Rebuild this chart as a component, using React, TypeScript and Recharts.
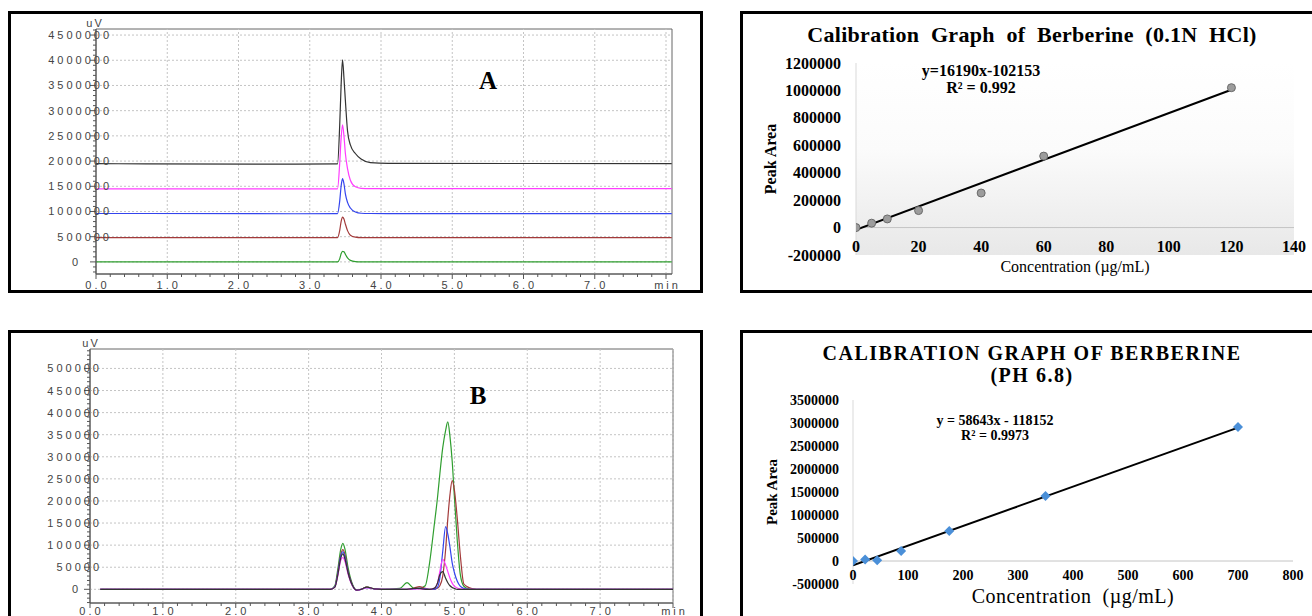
import {
  Line,
  LineChart,
  ReferenceArea,
  ReferenceLine,
  Scatter,
  ScatterChart,
  XAxis,
  YAxis,
} from 'recharts';

const SERIF = '"Liberation Serif", "Times New Roman", serif';
const SANS = '"Liberation Sans", Arial, sans-serif';

// chromatogram A: five overlaid standards, offset baselines
const timeA = [0, 0.7, 2.8, 3.39, 3.42, 3.44, 3.46, 3.48, 3.5, 3.53, 3.57, 3.64, 3.72, 3.85, 4.1, 8.08];
const blackA = [1950000, 1945000, 1940000, 1945000, 2700000, 3500000, 4010000, 3650000, 3200000, 2600000, 2320000, 2150000, 2040000, 1970000, 1955000, 1950000];
const magentaA = [1450000, 1450000, 1450000, 1450000, 1950000, 2450000, 2720000, 2500000, 2150000, 1850000, 1620000, 1490000, 1460000, 1455000, 1455000, 1455000];
const blueA = [960000, 960000, 955000, 958000, 1200000, 1500000, 1650000, 1550000, 1350000, 1180000, 1070000, 990000, 965000, 960000, 958000, 958000];
const brownA = [480000, 480000, 480000, 480000, 620000, 800000, 890000, 850000, 750000, 620000, 530000, 490000, 480000, 480000, 480000, 480000];
const greenA = [0, 0, 0, 0, 60000, 160000, 210000, 200000, 150000, 80000, 30000, 5000, 0, 0, 0, 0];
const yMajorA = [0, 500000, 1000000, 1500000, 2000000, 2500000, 3000000, 3500000, 4000000, 4500000];

// chromatogram B
const timeB = [0.14, 2.0, 3.3, 3.36, 3.4, 3.44, 3.47, 3.5, 3.54, 3.6, 3.66, 3.72, 3.8, 3.9, 4.0, 4.25, 4.35, 4.45, 4.52, 4.6, 4.66, 4.72, 4.77, 4.8, 4.84, 4.88, 4.91, 4.94, 4.97, 5.0, 5.04, 5.08, 5.13, 5.2, 5.3, 6.0, 8.0];
const greenB = [0, 0, 0, 8000, 45000, 90000, 104000, 90000, 50000, 12000, -2000, 0, 5000, 1000, 0, 2000, 15000, 2000, 2000, 8000, 60000, 140000, 210000, 260000, 320000, 360000, 379000, 345000, 290000, 210000, 110000, 35000, 7000, 1000, 0, 0, 0];
const brownB = [0, 0, 0, 6000, 38000, 78000, 90000, 78000, 42000, 10000, -2000, 0, 5000, 1000, 0, 0, 0, 3000, 6000, 2000, 0, 0, 3000, 8000, 30000, 90000, 160000, 215000, 246000, 225000, 160000, 80000, 12000, 4000, 0, 0, 0];
const blueB = [0, 0, 0, 6000, 35000, 75000, 85000, 72000, 40000, 9000, -2000, 0, 4000, 1000, 0, 0, 0, 1000, 2000, 1000, 0, 0, 5000, 25000, 85000, 142000, 125000, 95000, 60000, 38000, 18000, 7000, 2000, 0, 0, 0, 0];
const magentaB = [0, 0, 0, 5000, 30000, 65000, 72000, 62000, 35000, 8000, -2000, 0, 4000, 1000, 0, 0, 0, 1000, 1000, 0, 0, 2000, 15000, 40000, 68000, 55000, 40000, 25000, 14000, 7000, 3000, 1000, 0, 0, 0, 0, 0];
const blackB = [0, 0, 0, 5000, 32000, 70000, 80000, 68000, 38000, 9000, -2000, 0, 5000, 1000, 0, 0, 0, 2000, 2000, 0, 0, 2000, 15000, 33000, 40000, 25000, 15000, 8000, 4000, 2000, 0, 0, 0, 0, 0, 0, 0];
const yMajorB = [0, 50000, 100000, 150000, 200000, 250000, 300000, 350000, 400000, 450000, 500000];

const xMajorChrom = [0, 1, 2, 3, 4, 5, 6, 7, 8];
const xLabelsChrom = ['0.0', '1.0', '2.0', '3.0', '4.0', '5.0', '6.0', '7.0', 'min'];

// calibration 0.1N HCl
const concC = [0, 5, 10, 20, 40, 60, 120];
const areaC = [0, 32000, 63000, 124000, 252000, 521000, 1020000];
const trendCX = [0, 120];
const trendCY = [-17000, 1005000];
const xTicksC = [0, 20, 40, 60, 80, 100, 120, 140];
const yTicksC = [-200000, 0, 200000, 400000, 600000, 800000, 1000000, 1200000];

// calibration pH 6.8
const concD = [0, 22, 44, 87.5, 175, 350, 700];
const areaD = [0, 30000, 15000, 218000, 653000, 1415000, 2911000];
const trendDX = [0, 700];
const trendDY = [-95000, 2900000];
const xTicksD = [0, 100, 200, 300, 400, 500, 600, 700, 800];
const yTicksD = [-500000, 0, 500000, 1000000, 1500000, 2000000, 2500000, 3000000, 3500000];

const rowsA = timeA.map((t, i) => ({
  t, black: blackA[i], magenta: magentaA[i], blue: blueA[i], brown: brownA[i], green: greenA[i],
}));
const rowsB = timeB.map((t, i) => ({
  t, black: blackB[i], magenta: magentaB[i], blue: blueB[i], brown: brownB[i], green: greenB[i],
}));

const minorX = Array.from({ length: 41 }, (_, i) => i / 5);
const minorYA = Array.from({ length: 49 }, (_, i) => -200000 + i * 100000);
const minorYB = Array.from({ length: 58 }, (_, i) => -30000 + i * 10000);

function ChromYTick(props: any) {
  const { y, payload, axisX, labelGap, zeroGap, majors } = props;
  const v = payload.value;
  const major = majors.includes(v);
  return (
    <g>
      <line x1={axisX - (major ? 6 : 3)} x2={axisX} y1={y} y2={y} stroke="#555" />
      {major && (
        <text
          x={v === 0 ? axisX - zeroGap : axisX + labelGap}
          y={y}
          dominantBaseline="central"
          textAnchor="end"
          fontFamily={SANS}
          fontSize={11}
          letterSpacing={3}
          fill="#444"
        >
          {String(v)}
        </text>
      )}
    </g>
  );
}

function ChromXTick(props: any) {
  const { x, payload, axisY, labelDy } = props;
  const v = payload.value;
  const major = Number.isInteger(v);
  const idx = xMajorChrom.indexOf(v);
  return (
    <g>
      <line x1={x} x2={x} y1={axisY} y2={axisY + (major ? 5 : 3)} stroke="#555" />
      {major && idx >= 0 && (
        <text
          x={x + 1.5}
          y={axisY + labelDy}
          dominantBaseline="central"
          textAnchor="middle"
          fontFamily={SANS}
          fontSize={11}
          letterSpacing={3}
          fill="#444"
        >
          {xLabelsChrom[idx]}
        </text>
      )}
    </g>
  );
}

function Chromatogram(props: any) {
  const { rows, width, height, margin, yAxisWidth, xAxisHeight, xMax, yDomain, yMajor, yMinor, axisX, axisY, labelGap, zeroGap, labelDy } = props;
  return (
    <LineChart width={width} height={height} data={rows} margin={margin}>
      <XAxis
        type="number"
        dataKey="t"
        domain={[0, xMax]}
        allowDataOverflow
        ticks={minorX}
        interval={0}
        height={xAxisHeight}
        axisLine={{ stroke: '#555' }}
        tickLine={false}
        tick={(p: any) => <ChromXTick {...p} axisY={axisY} labelDy={labelDy} />}
      />
      <YAxis
        type="number"
        domain={yDomain}
        allowDataOverflow
        ticks={yMinor}
        interval={0}
        width={yAxisWidth}
        axisLine={{ stroke: '#555' }}
        tickLine={false}
        tick={(p: any) => <ChromYTick {...p} axisX={axisX} labelGap={labelGap} zeroGap={zeroGap} majors={yMajor} />}
      />
      {xMajorChrom.slice(1).map((v) => (
        <ReferenceLine key={'vx' + v} x={v} stroke="#c4c4c4" strokeDasharray="2 2" />
      ))}
      {yMajor.map((v: number) => (
        <ReferenceLine key={'hy' + v} y={v} stroke="#c4c4c4" strokeDasharray="2 2" />
      ))}
      <ReferenceArea x1={0} x2={xMax} y1={yDomain[0]} y2={yDomain[1]} fill="none" stroke="#666" />
      <Line type="monotone" dataKey="green" stroke="#2f9e2f" strokeWidth={1.2} dot={false} isAnimationActive={false} />
      <Line type="monotone" dataKey="brown" stroke="#a33a3a" strokeWidth={1.2} dot={false} isAnimationActive={false} />
      <Line type="monotone" dataKey="blue" stroke="#3344ee" strokeWidth={1.2} dot={false} isAnimationActive={false} />
      <Line type="monotone" dataKey="magenta" stroke="#ff3cff" strokeWidth={1.2} dot={false} isAnimationActive={false} />
      <Line type="monotone" dataKey="black" stroke="#333" strokeWidth={1.2} dot={false} isAnimationActive={false} />
    </LineChart>
  );
}

function Txt(props: any) {
  const { x, y, size, bold, rotate, family, spacing, color, children } = props;
  return (
    <div
      style={{
        position: 'absolute',
        left: x,
        top: y,
        transform: `translate(-50%, -50%)${rotate ? ' rotate(-90deg)' : ''}`,
        fontSize: size,
        fontWeight: bold ? 700 : 400,
        fontFamily: family ?? SERIF,
        letterSpacing: spacing,
        color: color ?? '#000',
        whiteSpace: 'pre',
        lineHeight: 1,
      }}
    >
      {children}
    </div>
  );
}

function Box({ x, y, w, h }: { x: number; y: number; w: number; h: number }) {
  return (
    <div
      style={{
        position: 'absolute',
        left: x,
        top: y,
        width: w,
        height: h,
        border: '3px solid #000',
        boxSizing: 'border-box',
      }}
    />
  );
}

function CalYTick(props: any) {
  const { y, payload, tx, size } = props;
  return (
    <text x={tx} y={y} textAnchor="end" dominantBaseline="central" fontFamily={SERIF} fontWeight={700} fontSize={size} fill="#000">
      {String(payload.value)}
    </text>
  );
}

function CalXTick(props: any) {
  const { x, payload, ty, size } = props;
  return (
    <text x={x} y={ty} textAnchor="middle" dominantBaseline="central" fontFamily={SERIF} fontWeight={700} fontSize={size} fill="#000">
      {String(payload.value)}
    </text>
  );
}

const noShape = () => <g />;

export default function App() {
  const pointsC = concC.map((x, i) => ({ x, y: areaC[i] }));
  const lineC = trendCX.map((x, i) => ({ x, y: trendCY[i] }));
  const pointsD = concD.map((x, i) => ({ x, y: areaD[i] }));
  const lineD = trendDX.map((x, i) => ({ x, y: trendDY[i] }));

  return (
    <div style={{ position: 'absolute', left: 0, top: 0, width: 1312, height: 616, overflow: 'hidden', background: '#fff' }}>
      <Box x={8} y={11} w={695} h={282} />
      <Box x={8} y={330} w={695} h={300} />
      <Box x={740} y={11} w={600} h={282} />
      <Box x={740} y={330} w={600} h={300} />

      {/* A */}
      <div style={{ position: 'absolute', left: 11, top: 14 }}>
        <Chromatogram
          rows={rowsA}
          width={689}
          height={276}
          margin={{ top: 15, right: 28, bottom: 0, left: 0 }}
          yAxisWidth={85}
          xAxisHeight={16}
          xMax={8.084}
          yDomain={[-240000, 4620000]}
          yMajor={yMajorA}
          yMinor={minorYA}
          axisX={85}
          axisY={260}
          labelGap={16}
          zeroGap={15}
          labelDy={11}
        />
      </div>
      <Txt x={95} y={23} size={11} family={SANS} spacing={2} color="#444">uV</Txt>
      <Txt x={488} y={80} size={25} bold>A</Txt>

      {/* B */}
      <div style={{ position: 'absolute', left: 11, top: 333 }}>
        <Chromatogram
          rows={rowsB}
          width={689}
          height={283}
          margin={{ top: 16, right: 27, bottom: 0, left: 0 }}
          yAxisWidth={79}
          xAxisHeight={13}
          xMax={8}
          yDomain={[-31000, 544000]}
          yMajor={yMajorB}
          yMinor={minorYB}
          axisX={79}
          axisY={270}
          labelGap={12}
          zeroGap={9}
          labelDy={8}
        />
      </div>
      <Txt x={91} y={343} size={11} family={SANS} spacing={2} color="#444">uV</Txt>
      <Txt x={478} y={395} size={25} bold>B</Txt>

      {/* C */}
      <div
        style={{
          position: 'absolute',
          left: 856,
          top: 63,
          width: 438,
          height: 192,
          background: 'linear-gradient(to bottom, #ffffff 0%, #fbfbfb 45%, #e8e8e8 100%)',
        }}
      />
      <div style={{ position: 'absolute', left: 743, top: 14 }}>
        <ScatterChart width={569} height={276} margin={{ top: 49, right: 18, bottom: 0, left: 0 }}>
          <XAxis
            type="number"
            dataKey="x"
            domain={[0, 140]}
            allowDataOverflow
            ticks={xTicksC}
            interval={0}
            height={35}
            axisLine={false}
            tickLine={false}
            tick={(p: any) => <CalXTick {...p} ty={232} size={16} />}
          />
          <YAxis
            type="number"
            dataKey="y"
            domain={[-200000, 1200000]}
            allowDataOverflow
            ticks={yTicksC}
            interval={0}
            width={113}
            axisLine={{ stroke: '#d9d9d9' }}
            tickLine={false}
            tick={(p: any) => <CalYTick {...p} tx={98} size={16} />}
          />
          <ReferenceLine y={0} stroke="#c4c4c4" />
          <Scatter data={lineC} line={{ stroke: '#000', strokeWidth: 2 }} shape={noShape} isAnimationActive={false} />
          <Scatter
            data={pointsC}
            isAnimationActive={false}
            shape={(p: any) => <circle cx={p.cx} cy={p.cy} r={4} fill="#9c9c9c" stroke="#6a6a6a" strokeWidth={1} />}
          />
        </ScatterChart>
      </div>
      <Txt x={1032} y={35} size={22} bold spacing={0.3}>Calibration  Graph  of  Berberine  (0.1N  HCl)</Txt>
      <Txt x={981} y={71} size={16} bold>y=16190x-102153</Txt>
      <Txt x={981} y={88} size={16} bold>R² = 0.992</Txt>
      <Txt x={1075} y={267} size={16}>Concentration (µg/mL)</Txt>
      <Txt x={771} y={159} size={16} bold rotate>Peak Area</Txt>

      {/* D */}
      <div style={{ position: 'absolute', left: 743, top: 333 }}>
        <ScatterChart width={569} height={283} margin={{ top: 67, right: 19, bottom: 0, left: 0 }}>
          <XAxis
            type="number"
            dataKey="x"
            domain={[0, 800]}
            allowDataOverflow
            ticks={xTicksD}
            interval={0}
            height={32}
            axisLine={false}
            tickLine={false}
            tick={(p: any) => <CalXTick {...p} ty={242} size={14} />}
          />
          <YAxis
            type="number"
            dataKey="y"
            domain={[-500000, 3500000]}
            allowDataOverflow
            ticks={yTicksD}
            interval={0}
            width={110}
            axisLine={{ stroke: '#d9d9d9' }}
            tickLine={false}
            tick={(p: any) => <CalYTick {...p} tx={96} size={14} />}
          />
          <ReferenceLine y={0} stroke="#c4c4c4" />
          <Scatter data={lineD} line={{ stroke: '#000', strokeWidth: 2 }} shape={noShape} isAnimationActive={false} />
          <Scatter
            data={pointsD}
            isAnimationActive={false}
            shape={(p: any) => (
              <polygon
                points={`${p.cx},${p.cy - 5} ${p.cx + 5},${p.cy} ${p.cx},${p.cy + 5} ${p.cx - 5},${p.cy}`}
                fill="#4a8fd8"
              />
            )}
          />
        </ScatterChart>
      </div>
      <Txt x={1032} y={353} size={20} bold spacing={1.5}>CALIBRATION GRAPH OF BERBERINE</Txt>
      <Txt x={1032} y={375} size={20} bold spacing={1.5}>(PH 6.8)</Txt>
      <Txt x={995} y={421} size={14} bold>y = 58643x - 118152</Txt>
      <Txt x={995} y={436} size={14} bold>R² = 0.9973</Txt>
      <Txt x={1073} y={596} size={20} spacing={0.5}>Concentration  (µg/mL)</Txt>
      <Txt x={772} y={492} size={15} bold rotate>Peak Area</Txt>
    </div>
  );
}
